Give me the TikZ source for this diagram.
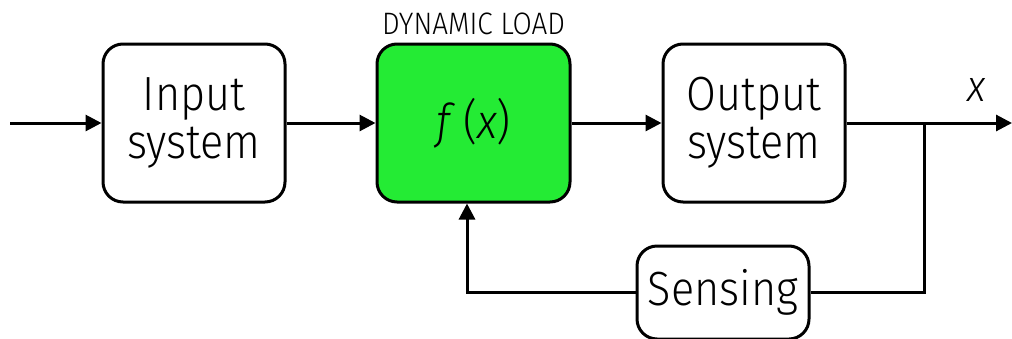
\documentclass[tikz,border=0pt]{standalone}
\usepackage{fontspec}
\setmainfont{Fira Sans Light}[FakeStretch=0.9]
\usetikzlibrary{arrows.meta,calc}
\definecolor{loadgreen}{RGB}{36,235,52}
\tikzset{
  blockbox/.style={draw=black, line width=3pt, rounded corners=20pt, fill=white,
    inner sep=0pt, align=center, font=\fontsize{48}{48}\selectfont},
  wire/.style={line width=3pt},
  arrowwire/.style={line width=3pt, -{Triangle[length=16pt,width=16pt]}},
}
\begin{document}
\begin{tikzpicture}[x=1pt,y=-1pt]
\useasboundingbox (0,0) rectangle (1012,338);
\node[blockbox, minimum width=182pt, minimum height=158pt] (inp) at (194,123) {Input\\system};
\node[blockbox, fill=loadgreen, minimum width=193pt, minimum height=158pt] (dyn) at (473.5,123) {\textit{f}\,(\textit{x})};
\node[blockbox, minimum width=182pt, minimum height=158pt] (out) at (754,123) {Output\\system};
\node[blockbox, minimum width=172pt, minimum height=93pt] (sens) at (723,292.5) {Sensing};
\node[font=\fontsize{31}{31}\selectfont, inner sep=0pt] (lbl) at (473.5,24) {DYNAMIC LOAD};
\node[font=\fontsize{44}{44}\selectfont\itshape, inner sep=0pt] (xl) at (977,90) {x};
\coordinate (start) at (10,123);
\coordinate (stop) at (1012,123);
\coordinate (junc) at (924,123);
\coordinate (cr) at (924,292);
\coordinate (cl) at (467,292);
\draw[arrowwire] (start) -- (inp.west);
\draw[arrowwire] (inp.east) -- (dyn.west);
\draw[arrowwire] (dyn.east) -- (out.west);
\draw[arrowwire] (out.east) -- (stop);
\draw[wire] (junc) -- (cr) -- (sens.east |- cr);
\draw[arrowwire] (sens.west |- cl) -- (cl) -- (dyn.south -| cl);
\end{tikzpicture}
\end{document}
